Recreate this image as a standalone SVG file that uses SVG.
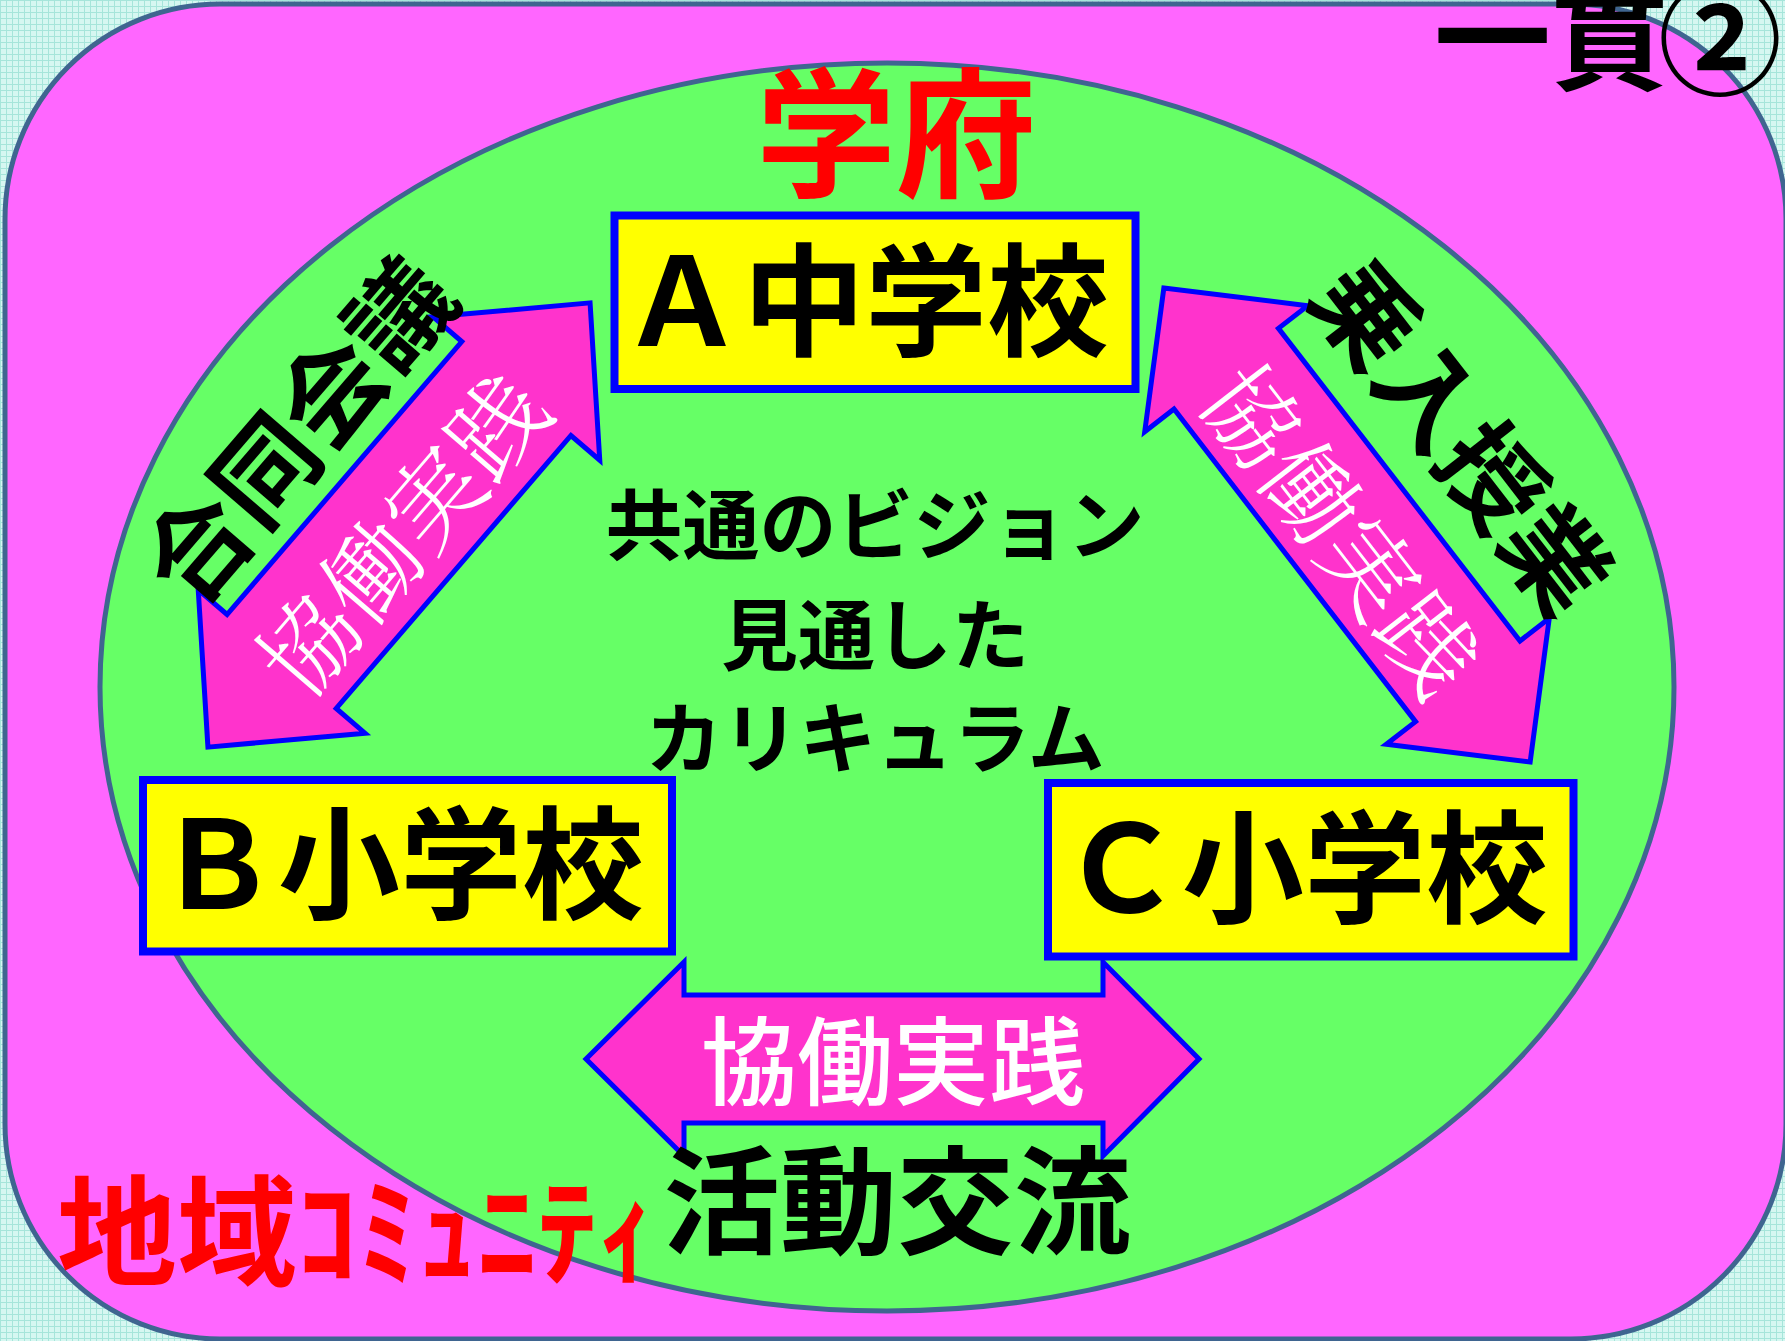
<svg xmlns="http://www.w3.org/2000/svg" width="1785" height="1341" viewBox="0 0 1785 1341">
<defs>
<pattern id="bgtex" width="6" height="6" patternUnits="userSpaceOnUse">
<rect width="6" height="6" fill="#D6F7F1"/>
<path d="M0 0.5H6M0.5 0V6" stroke="#A6E5DA" stroke-width="1"/>
</pattern>
<style>
.frame{fill:#FF66FF;stroke:#3F6590;stroke-width:5}
.oval{fill:#66FF66;stroke:#3F6590;stroke-width:5}
.box{fill:#FFFF00;stroke:#0000FF;stroke-width:8}
.arrow{fill:#FF33CC;stroke:#0000FF;stroke-width:5;stroke-linejoin:miter}
.g{font-family:"Noto Sans CJK JP","Noto Sans CJK SC",sans-serif;font-weight:700;text-anchor:middle}
.lbl{font-size:122px;fill:#000;text-anchor:start}
.mid{font-size:77px;fill:#000}
.side{font-size:103px;fill:#000}
.red{fill:#FF0000}
.wt{font-family:"Noto Sans CJK JP",sans-serif;font-weight:500;fill:#FFFFFF;text-anchor:middle}
.wm{font-family:"Noto Serif CJK JP","Noto Sans CJK JP",serif;font-weight:300;fill:#FFFFFF;text-anchor:middle;font-size:96px}
</style>
</defs>
<rect width="1785" height="1341" fill="url(#bgtex)"/>
<rect class="frame" x="5" y="4" width="1781" height="1335" rx="215" ry="215"/>
<ellipse class="oval" cx="887" cy="687" rx="787" ry="624"/>
<text class="g red" x="896" y="186" font-size="140">学府</text>
<text class="g" x="1434" y="81" font-size="117" style="text-anchor:start">一貫<tspan font-size="124" dx="-10" dy="4">②</tspan></text>

<g id="connectors">
<g id="arrow-ab" transform="translate(399,525) rotate(-49.3)">
<polygon class="arrow" points="-293,0 -180,-110 -180,-72 180,-72 180,-110 293,0 180,110 180,72 -180,72 -180,110"/>
<text class="wm" x="-5" y="45">協働実践</text>
</g>
<g id="arrow-ac" transform="translate(1347,525) rotate(52.3)">
<polygon class="arrow" points="-299.5,0 -197.5,-103 -197.5,-66 197.5,-66 197.5,-103 299.5,0 197.5,103 197.5,66 -197.5,66 -197.5,103"/>
<text class="wm" x="0" y="44">協働実践</text>
</g>
<g id="arrow-bc">
<polygon class="arrow" points="586,1059 684,962 684,995 1103,995 1103,962 1199,1059 1103,1156 1103,1123 684,1123 684,1156"/>
<text class="wt" x="893" y="1097" font-size="96">協働実践</text>
</g>
</g>

<g id="label-goudou" transform="translate(399,525) rotate(-49.3)">
<text class="g side" x="6" y="-99">合同会議</text>
</g>
<g id="label-noriire" transform="translate(1347,525) rotate(52.3)">
<text class="g side" x="0" y="-106">乗入授業</text>
</g>

<g id="node-a">
<rect class="box" x="614.5" y="215.5" width="521" height="173.5"/>
<text class="g lbl" x="621" y="346">Ａ中学校</text>
</g>
<g id="node-b">
<rect class="box" x="143" y="780" width="529" height="171.5"/>
<text class="g lbl" x="156" y="909">Ｂ小学校</text>
</g>
<g id="node-c">
<rect class="box" x="1048" y="783" width="525.5" height="173.5"/>
<text class="g lbl" x="1060" y="913">Ｃ小学校</text>
</g>

<g id="vision">
<text class="g mid" x="875" y="554">共通のビジョン</text>
<text class="g mid" x="875" y="664">見通した</text>
<text class="g mid" x="875" y="767">カリキュラム</text>
</g>

<g id="label-katsudou">
<text class="g" x="897" y="1245" font-size="117">活動交流</text>
</g>
<g id="label-chiiki">
<text class="g red" x="57" y="1277" font-size="120" style="text-anchor:start">地域ｺﾐｭﾆﾃｨ</text>
</g>
</svg>
